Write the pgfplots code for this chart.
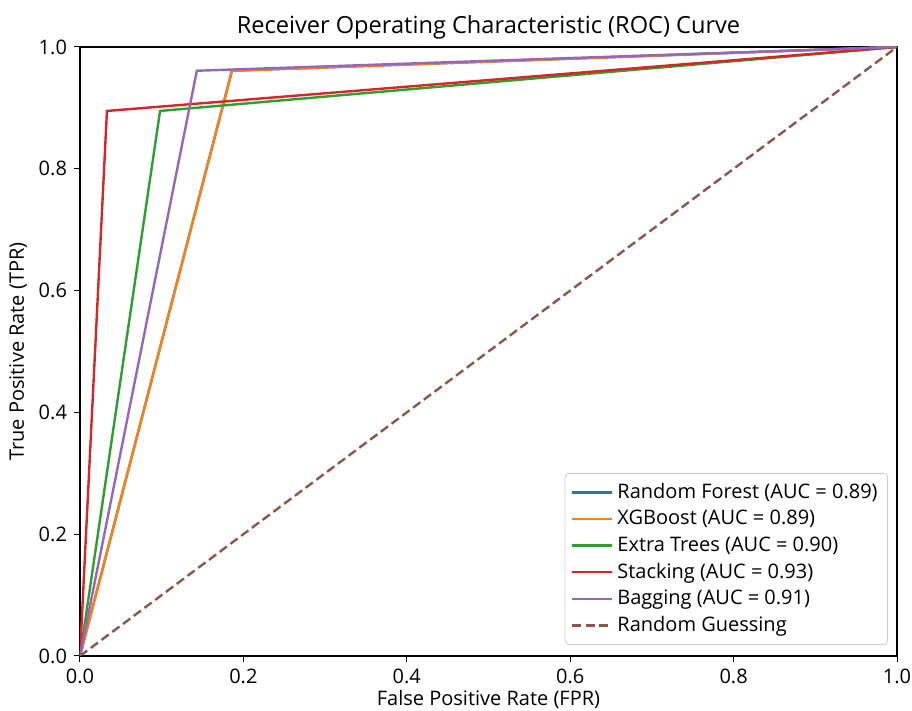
\documentclass[border=0pt]{standalone}
\usepackage{pgfplots}
\pgfplotsset{compat=1.18}
\usepackage{fontspec}
\setmainfont{Open Sans}
\definecolor{tabblue}{HTML}{1F77B4}
\definecolor{taborange}{HTML}{FF7F0E}
\definecolor{tabgreen}{HTML}{2CA02C}
\definecolor{tabred}{HTML}{D62728}
\definecolor{tabpurple}{HTML}{9467BD}
\definecolor{tabbrown}{HTML}{8C564B}
\begin{document}
\begin{tikzpicture}
\path[use as bounding box] (-40pt,-27.5pt) rectangle (416pt,328pt);
\begin{axis}[
  scale only axis,
  width=408.5pt, height=304.5pt,
  at={(0,0)}, anchor=south west,
  xmin=0, xmax=1, ymin=0, ymax=1,
  xtick={0,0.2,0.4,0.6,0.8,1.0},
  ytick={0,0.2,0.4,0.6,0.8,1.0},
  xticklabel style={/pgf/number format/.cd,fixed,fixed zerofill,precision=1},
  yticklabel style={/pgf/number format/.cd,fixed,fixed zerofill,precision=1},
  /pgf/number format/assume math mode=true,
  tick align=outside,
  tick pos=left,
  major tick length=3pt,
  tick style={black, line width=0.5pt},
  axis line style={line width=0.6pt},
  tick label style={font=\fontsize{10}{11}\selectfont},
  label style={font=\fontsize{10}{11}\selectfont},
  xlabel style={yshift=3.5pt},
  ylabel style={yshift=-1pt},
  title style={font=\fontsize{11.8}{13}\selectfont, yshift=-5.5pt},
  title={Receiver Operating Characteristic (ROC) Curve},
  xlabel={False Positive Rate (FPR)},
  ylabel={True Positive Rate (TPR)},
  legend style={at={(0.989,0.018)}, anchor=south east,
    font=\fontsize{10}{11}\selectfont,
    draw=black!20, rounded corners=2pt, fill=white, fill opacity=0.8, text opacity=1,
    row sep=0.4pt, inner sep=3pt},
  legend cell align=left,
  legend image code/.code={\draw[#1] (0pt,0pt) -- (20pt,0pt);},
  every axis plot/.append style={line width=1.2pt},
]
\addplot[tabblue] coordinates {(0,0) (0.186,0.961) (1,1)};
\addlegendentry{Random Forest (AUC = 0.89)}
\addplot[taborange] coordinates {(0,0) (0.186,0.961) (1,1)};
\addlegendentry{XGBoost (AUC = 0.89)}
\addplot[tabgreen] coordinates {(0,0) (0.098,0.895) (1,1)};
\addlegendentry{Extra Trees (AUC = 0.90)}
\addplot[tabred] coordinates {(0,0) (0.033,0.895) (1,1)};
\addlegendentry{Stacking (AUC = 0.93)}
\addplot[tabpurple] coordinates {(0,0) (0.143,0.961) (1,1)};
\addlegendentry{Bagging (AUC = 0.91)}
\addplot[tabbrown, dash pattern=on 4.5pt off 2.2pt] coordinates {(0,0) (1,1)};
\addlegendentry{Random Guessing}
\end{axis}
\end{tikzpicture}
\end{document}
